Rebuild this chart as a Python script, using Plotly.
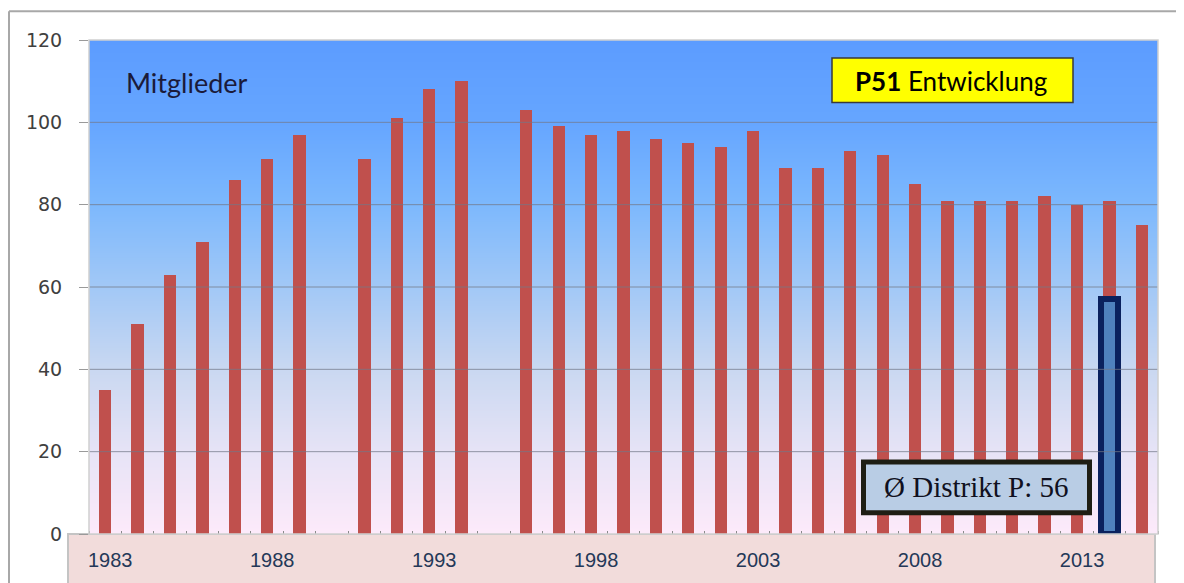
import plotly.graph_objects as go
import numpy as np

# ---- data ----
years = [1983, 1984, 1985, 1986, 1987, 1988, 1989, 1991, 1992, 1993, 1994,
         1996, 1997, 1998, 1999, 2000, 2001, 2002, 2003, 2004, 2005, 2006,
         2007, 2008, 2009, 2010, 2011, 2012, 2013, 2014, 2015]
members = [35, 51, 63, 71, 86, 91, 97, 91, 101, 108, 110,
           103, 99, 97, 98, 96, 95, 94, 98, 89, 89, 93,
           92, 85, 81, 81, 81, 82, 80, 81, 75]
district_year = [2014]
district_avg = [57]
district_label = "Ø Distrikt P: 56"
y_ticks = [0, 20, 40, 60, 80, 100, 120]
x_ticks = [1983, 1988, 1993, 1998, 2003, 2008, 2013]

X0, X1 = 1982.5, 2015.5
Y0, Y1 = 0, 120

fig = go.Figure()

# gradient background
gy = np.linspace(-5, 125, 27)
fig.add_trace(go.Heatmap(
    x=[1980, 2018], y=gy, z=[[v, v] for v in gy], zmin=0, zmax=120,
    zsmooth="best", showscale=False, hoverinfo="skip",
    colorscale=[[0.0, "rgb(253,234,250)"], [0.17, "rgb(230,227,246)"],
                [0.33, "rgb(202,216,241)"], [0.5, "rgb(162,200,246)"],
                [0.67, "rgb(124,184,253)"], [0.83, "rgb(102,166,255)"],
                [1.0, "rgb(92,156,255)"]]))

# grid lines
gx, gyl = [], []
for t in y_ticks[1:-1]:
    gx += [X0, X1, None]
    gyl += [t, t, None]
fig.add_trace(go.Scatter(x=gx, y=gyl, mode="lines", hoverinfo="skip",
                         line=dict(color="rgba(115,120,135,0.75)", width=1),
                         showlegend=False))

fig.add_trace(go.Bar(x=years, y=members, width=0.38,
                     marker=dict(color="#C0504D", line=dict(width=0)),
                     showlegend=False))
fig.add_trace(go.Bar(x=district_year, y=district_avg, width=0.5,
                     marker=dict(color="#4F81BD",
                                 line=dict(color="#0A215E", width=6)),
                     showlegend=False))

# page is offset by the 8px body margin
OFF = 8
FW, FH = 1184 - OFF, 583 - OFF
PL, PR, PT, PB = 89, 1158, 40, 537   # plot area in page pixels
W = PR - PL
H = PB - PT


def px(x):
    return (x - PL) / W


def py(y):
    return (PB - y) / H


shapes = [
    # x-axis band
    dict(type="rect", xref="paper", yref="paper", x0=px(68), x1=px(1155),
         y0=py(600), y1=0, fillcolor="#F2DCDB",
         line=dict(color="#C4C4C4", width=2), layer="below"),
    # outer frame
    dict(type="line", xref="paper", yref="paper", x0=px(9), x1=px(1200),
         y0=py(11), y1=py(11), line=dict(color="#A8A8A8", width=2)),
    dict(type="line", xref="paper", yref="paper", x0=px(9), x1=px(9),
         y0=py(11), y1=py(600), line=dict(color="#A8A8A8", width=2)),
    # plot border
    dict(type="rect", xref="paper", yref="paper", x0=0, x1=1, y0=0, y1=1,
         line=dict(color="#CFCFCF", width=1.5)),
    # yellow box
    dict(type="rect", xref="paper", yref="paper", x0=px(832), x1=px(1073),
         y0=py(103), y1=py(58), fillcolor="#FFFF00",
         line=dict(color="#3A3A3A", width=1.5)),
    # district box
    dict(type="rect", xref="paper", yref="paper", x0=px(863.5), x1=px(1089.5),
         y0=py(515.5), y1=py(464.5), fillcolor="#B9CDE5",
         line=dict(color="#1E1E14", width=5)),
]

annotations = [
    dict(text="Mitglieder", xref="paper", yref="paper", x=px(124), y=py(83),
         xanchor="left", yanchor="middle", showarrow=False,
         font=dict(family="Lato", size=27, color="#1B1B3A")),
    dict(text="<b>P51</b> Entwicklung", xref="paper", yref="paper",
         x=px(951), y=py(81), xanchor="center", yanchor="middle",
         showarrow=False, font=dict(family="Lato", size=26, color="#000000")),
    dict(text=district_label, xref="paper", yref="paper",
         x=px(976), y=py(490), xanchor="center", yanchor="middle",
         showarrow=False,
         font=dict(family="Liberation Serif", size=29, color="#101020")),
]

fig.update_layout(
    width=FW, height=FH,
    margin=dict(l=PL - OFF, r=FW - (PR - OFF), t=PT - OFF, b=FH - (PB - OFF)),
    paper_bgcolor="white", plot_bgcolor="white",
    barmode="overlay", bargap=0,
    shapes=shapes, annotations=annotations, showlegend=False,
    xaxis=dict(range=[X0, X1], tickmode="array", tickvals=x_ticks,
               ticktext=[str(v) for v in x_ticks], ticks="",
               showgrid=False, zeroline=False, showline=False,
               ticklabelstandoff=12, ticklabelshift=5,
               minor=dict(tickmode="linear", tick0=1982.5, dtick=1,
                          ticks="inside", ticklen=3, tickcolor="#8A8A8A",
                          showgrid=False),
               tickfont=dict(family="Liberation Sans", size=20, color="#243858")),
    yaxis=dict(range=[Y0, Y1], tickmode="array", tickvals=y_ticks,
               ticks="outside", ticklen=9, tickcolor="#9A9A9A",
               showgrid=False, zeroline=False, showline=False,
               ticklabelstandoff=13,
               tickfont=dict(family="DejaVu Sans", size=19, color="#404040")),
)

fig.write_html("out.html")
